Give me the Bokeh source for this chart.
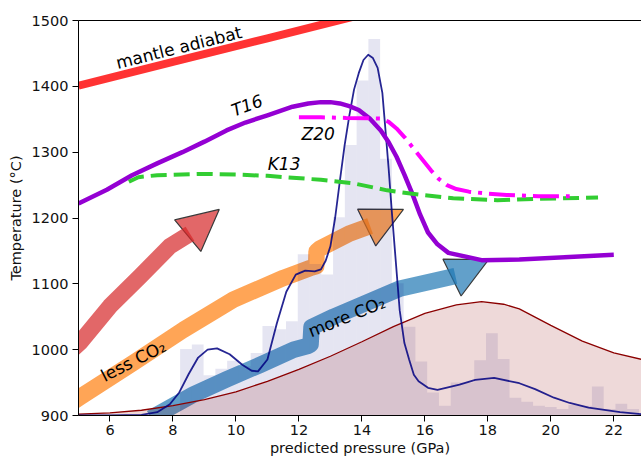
from bokeh.plotting import figure
from bokeh.models import Range1d, LinearAxis, FixedTicker, Arrow, NormalHead
from bokeh.embed import file_html
from bokeh.resources import INLINE
from bokeh.core.properties import value
import math

FONT = "DejaVu Sans"

# ---------------- data ----------------
x_ticks = [6, 8, 10, 12, 14, 16, 18, 20, 22]
y_ticks = [900, 1000, 1100, 1200, 1300, 1400, 1500]

# histogram of predicted pressures (bar tops in temperature units, base 900)
hist_start = 8.226
hist_width = 0.3737
hist_tops = [1001, 1008, 961, 971, 983, 975, 995, 1036, 1031, 1043,
             1145, 1130, 1114, 1201, 1311, 1409, 1472, 1290, 1101, 1035,
             982, 935, 915, 950, 950, 984, 1025, 986, 927, 921,
             915, 913, 910, 916, 915, 944, 910, 918, 910]

# navy KDE
navy_x = [5.0, 6.0, 7.0, 7.5, 7.9, 8.2, 8.5, 8.8, 9.1, 9.4, 9.8, 10.2, 10.5, 10.7,
          11.0, 11.3, 11.6, 11.9, 12.2, 12.5, 12.7, 12.85, 13.0, 13.15, 13.3, 13.45,
          13.6, 13.75, 13.9, 14.05, 14.2, 14.35, 14.5, 14.65, 14.75, 14.85, 14.95,
          15.05, 15.2, 15.35, 15.5, 15.65, 15.8, 16.1, 16.4, 17.1, 17.6, 18.2, 19.0,
          19.5, 20.1, 20.6, 21.2, 22.2, 22.9]
navy_y = [900, 900, 901, 905, 917, 935, 963, 988, 1000, 1002, 993, 977, 968, 967,
          985, 1040, 1088, 1114, 1120, 1119, 1122, 1135, 1157, 1200, 1256, 1310,
          1355, 1395, 1420, 1440, 1448, 1443, 1428, 1390, 1333, 1275, 1210,
          1150, 1060, 1010, 985, 962, 952, 942, 939, 947, 954, 957, 949,
          940, 927, 919, 912, 905, 902]

# dark red KDE
red_kde_x = [5.0, 6.0, 7.0, 8.0, 9.0, 10.0, 11.0, 12.0, 13.0, 14.0, 15.0, 16.0,
             17.0, 17.8, 18.5, 19.0, 20.0, 21.0, 22.0, 22.9]
red_kde_y = [902, 904, 908, 915, 924, 936, 952, 970, 990, 1012, 1035, 1055,
             1068, 1073, 1069, 1062, 1037, 1013, 995, 985]

# mantle adiabat
adiabat_x = [5.0, 8.0, 11.0, 14.0]
adiabat_y = [1401, 1437, 1473, 1509]

# T16
t16_x = [5.0, 5.9, 6.7, 7.5, 8.3, 9.0, 9.7, 10.3, 11.0, 11.8, 12.3, 12.7, 13.0, 13.3,
         13.6, 13.9, 14.25, 14.6, 14.85, 15.1, 15.35, 15.6, 15.85, 16.1, 16.4,
         16.75, 17.8, 19.0, 22.0]
t16_y = [1222, 1243, 1265, 1283, 1300, 1316, 1333, 1345, 1356, 1369, 1374, 1376, 1376,
         1374, 1370, 1364, 1351, 1333, 1315, 1293, 1266, 1237, 1205, 1178, 1160,
         1147, 1136, 1137, 1144]

# K13
k13_x = [6.6, 6.9, 7.5, 8.9, 10.0, 11.0, 12.7, 13.7, 14.8, 15.9, 16.9, 18.3, 19.6, 21.5]
k13_y = [1255, 1262, 1265, 1267, 1266, 1264, 1258, 1253, 1242, 1235, 1230, 1227, 1229, 1231]

# Z20
z20_x = [12.0, 12.7, 13.5, 14.6, 14.85, 15.1, 15.35, 15.6, 15.9, 16.2, 16.45, 16.7,
         17.0, 17.4, 18.0, 18.6, 19.6, 20.6]
z20_y = [1353, 1353, 1352, 1351, 1346, 1336, 1323, 1308, 1290, 1272, 1259, 1250,
         1244, 1240, 1237, 1235, 1233, 1233]

# broad arrows (body paths, head base -> tip)
red_arrow_x = [4.8, 5.05, 6.0, 6.95, 7.9, 8.54]
red_arrow_y = [1000, 1011, 1066, 1111, 1157, 1176]
red_head = (8.54, 1176, 9.47, 1213)

orange_arrow_x = [4.8, 5.05, 6.74, 8.33, 9.92, 11.51, 12.36, 12.55, 12.56, 12.68, 13.63, 14.26]
orange_arrow_y = [920, 928, 980, 1030, 1076, 1109, 1124, 1127, 1149, 1154, 1177, 1188]
orange_head = (14.26, 1188, 15.32, 1213)

blue_arrow_x = [7.3, 8.65, 9.71, 10.77, 11.83, 12.3, 12.37, 12.4, 13.1, 15.22, 16.97]
blue_arrow_y = [896, 932, 955, 977, 1000, 1006, 1008, 1034, 1050, 1093, 1112]
blue_head = (16.97, 1112, 18.03, 1137)

# labels
label_normal = ["mantle adiabat"]
label_normal_x = [8.19]
label_normal_y = [1459]
label_normal_angle = [14]

label_italic = ["T16", "K13", "Z20"]
label_italic_x = [10.35, 11.53, 12.61]
label_italic_y = [1371, 1282, 1327]
label_italic_angle = [21, 0, 0]

label_co2 = ["less CO\u2082", "more CO\u2082"]
label_co2_x = [6.74, 13.52]
label_co2_y = [983, 1050]
label_co2_angle = [27, 22]

# ---------------- figure ----------------
p = figure(width=641, height=460, x_range=Range1d(5, 22.88), y_range=Range1d(900, 1500),
           output_backend="svg", toolbar_location=None,
           min_border_left=78, min_border_right=0, min_border_top=20, min_border_bottom=45,
           background_fill_color="white", border_fill_color="white")
p.outline_line_color = None
p.grid.visible = False

TAB_RED, TAB_ORANGE, TAB_BLUE = "#d62728", "#ff7f0e", "#1f77b4"

# arrows (drawn first, underneath histogram)
for ax_, ay_, head, col in [(red_arrow_x, red_arrow_y, red_head, TAB_RED),
                            (orange_arrow_x, orange_arrow_y, orange_head, TAB_ORANGE),
                            (blue_arrow_x, blue_arrow_y, blue_head, TAB_BLUE)]:
    p.line(ax_, ay_, line_color=col, line_alpha=0.7, line_width=16.5, line_join="round")
    arr = Arrow(end=NormalHead(size=41, fill_color=col, fill_alpha=0.7,
                               line_color="#3a3a3a", line_width=1.2),
                x_start=head[0], y_start=head[1], x_end=head[2], y_end=head[3],
                line_alpha=0, line_width=0, level="underlay")
    p.add_layout(arr)

# histogram
hist_left = [hist_start + i * hist_width for i in range(len(hist_tops))]
hist_right = [l + hist_width for l in hist_left]
p.quad(left=hist_left, right=hist_right, bottom=900, top=hist_tops,
       fill_color="navy", fill_alpha=0.1, line_color=None)

# KDEs
p.varea(x=red_kde_x, y1=[900] * len(red_kde_x), y2=red_kde_y,
        fill_color="darkred", fill_alpha=0.15)
p.line(red_kde_x, red_kde_y, line_color="darkred", line_width=1.3)
p.line(navy_x, navy_y, line_color="navy", line_alpha=0.85, line_width=1.8, line_join="round")

# reference lines
p.line(t16_x, t16_y, line_color="darkviolet", line_width=4.5, line_join="round")
p.line(k13_x, k13_y, line_color="limegreen", line_width=4, line_dash="16 7")
p.line(z20_x, z20_y, line_color="magenta", line_width=4, line_dash="26 7 4 7")
p.line(adiabat_x, adiabat_y, line_color="red", line_alpha=0.8, line_width=8)

# labels
def rad(a):
    return [math.radians(v) for v in a]

p.text(x=label_normal_x, y=label_normal_y, text=label_normal, angle=rad(label_normal_angle),
       text_font=value(FONT), text_font_size=value("17px"), text_color="black",
       text_align="center", text_baseline="middle")
p.text(x=label_italic_x, y=label_italic_y, text=label_italic, angle=rad(label_italic_angle),
       text_font=value(FONT), text_font_size=value("17px"), text_font_style="italic",
       text_color="black", text_align="center", text_baseline="middle")
p.text(x=label_co2_x, y=label_co2_y, text=label_co2, angle=rad(label_co2_angle),
       text_font=value(FONT), text_font_size=value("17px"), text_color="black",
       text_align="center", text_baseline="middle")

# axes
p.xaxis.ticker = FixedTicker(ticks=x_ticks)
p.yaxis.ticker = FixedTicker(ticks=y_ticks)
p.xaxis.axis_label = "predicted pressure (GPa)"
p.yaxis.axis_label = "Temperature (°C)"
for ax in (p.xaxis[0], p.yaxis[0]):
    ax.axis_line_color = "black"
    ax.axis_line_width = 1
    ax.major_tick_line_color = "black"
    ax.major_tick_out = 6
    ax.major_tick_in = 0
    ax.minor_tick_line_color = None
    ax.major_label_text_font = FONT
    ax.major_label_text_font_size = "14.5px"
    ax.major_label_text_color = "#111111"
    ax.axis_label_text_font = FONT
    ax.axis_label_text_font_size = "14.5px"
    ax.axis_label_text_font_style = "normal"
    ax.axis_label_text_color = "#111111"
p.xaxis.major_label_standoff = 3
p.xaxis.axis_label_standoff = 2
p.yaxis.major_label_standoff = 4
p.yaxis.axis_label_standoff = 5

top = LinearAxis(ticker=FixedTicker(ticks=[]), axis_line_color="black", axis_line_width=1,
                 major_tick_line_color=None, minor_tick_line_color=None,
                 major_label_text_font_size="0px")
p.add_layout(top, "above")

open("out.html", "w").write(file_html(p, INLINE))
